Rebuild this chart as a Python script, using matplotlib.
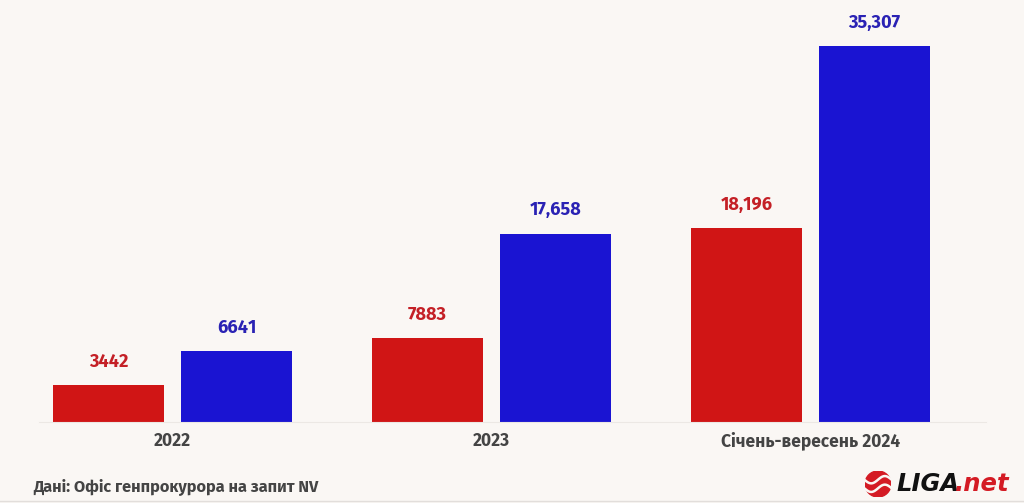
import matplotlib
matplotlib.use("Agg")
import matplotlib.pyplot as plt
from matplotlib.patches import Circle
import numpy as np

categories = ["2022", "2023", "Січень-вересень 2024"]
red_values = [3442, 7883, 18196]
blue_values = [6641, 17658, 35307]
red_labels = ["3442", "7883", "18,196"]
blue_labels = ["6641", "17,658", "35,307"]

BG = "#faf7f4"
RED = "#d01515"
BLUE = "#1a14d2"
RED_TXT = "#c42026"
BLUE_TXT = "#2a22b4"
GREY_TXT = "#444444"

plt.rcParams['font.family'] = ['Fira Sans', 'DejaVu Sans']

W, H = 1024, 503
fig = plt.figure(figsize=(W / 100, H / 100), dpi=100, facecolor=BG)
fig.canvas.draw()
renderer = fig.canvas.get_renderer()


def fit_size(text, target_px, base=12.0, **kw):
    t = fig.text(0, 0, text, fontsize=base, fontweight="bold", **kw)
    w = t.get_window_extent(renderer).width
    t.remove()
    return base * target_px / w


px_per_unit = 376 / 35307.0
base_px = 81  # baseline from bottom
ax = fig.add_axes([0, base_px / H, 1, (H - base_px) / H])
ax.set_facecolor(BG)
group_px = 319.0
x0_px = 172.5
ax.set_xlim(-x0_px / group_px, (W - x0_px) / group_px)
ax.set_ylim(0, (H - base_px) / px_per_unit)

x = np.arange(len(categories))
bw = 111 / group_px
off = 64 / group_px
ax.bar(x - off, red_values, width=bw, color=RED, zorder=2)
ax.bar(x + off, blue_values, width=bw, color=BLUE, zorder=2)

val_fs = fit_size("35,307", 52)
for xi, v, lab in zip(x - off, red_values, red_labels):
    ax.annotate(lab, (xi, v), xytext=(0, 17), textcoords="offset points",
                ha="center", va="center", color=RED_TXT, fontsize=val_fs, fontweight="bold")
for xi, v, lab in zip(x + off, blue_values, blue_labels):
    ax.annotate(lab, (xi, v), xytext=(0, 17), textcoords="offset points",
                ha="center", va="center", color=BLUE_TXT, fontsize=val_fs, fontweight="bold")

for s in ["top", "right", "left"]:
    ax.spines[s].set_visible(False)
ax.spines["bottom"].set_color("#ece8e4")
ax.spines["bottom"].set_linewidth(0.8)
ax.spines["bottom"].set_bounds(-0.42, 2.55)
ax.set_yticks([])
ax.set_xticks(x)
cat_fs = fit_size(categories[2], 178)
ax.set_xticklabels(categories, fontsize=cat_fs, fontweight="bold", color=GREY_TXT)
ax.tick_params(axis="x", length=0, pad=7)

# footer
foot = "Дані: Офіс генпрокурора на запит NV"
fig.text(33 / W, 1 - 487 / H, foot, fontsize=fit_size(foot, 285),
         fontweight="bold", color=GREY_TXT, ha="left", va="center")
fig.add_artist(plt.Line2D([0, 1], [1 - 500.5 / H, 1 - 500.5 / H], color="#e2dedb", lw=1,
                          transform=fig.transFigure))

# logo
lax = fig.add_axes([865 / W, 1 - 497 / H, 26 / W, 26 / H])
lax.set_xlim(-1, 1); lax.set_ylim(-1, 1); lax.axis("off")
lax.add_patch(Circle((0, 0), 1, color="#d41b24"))
t = np.linspace(-1, 1, 50)
for dy in (-0.33, 0.33):
    lax.plot(t, dy + 0.28 * np.sin(t * 3), color=BG, lw=1.8)
logo_font = ["DejaVu Sans"]
t1 = fig.text(896 / W, 1 - 484 / H, "LIGA", fontsize=17.5, fontweight="bold", fontstyle="italic",
              color="#111111", ha="left", va="center", family=logo_font)
bb = t1.get_window_extent(renderer)
fig.text((bb.x1 - 4) / W, 1 - 484 / H, ".net", fontsize=17.5, fontweight="bold", fontstyle="italic",
         color="#d41b24", ha="left", va="center", family=logo_font)

fig.savefig("out.png", dpi=100, facecolor=BG)
